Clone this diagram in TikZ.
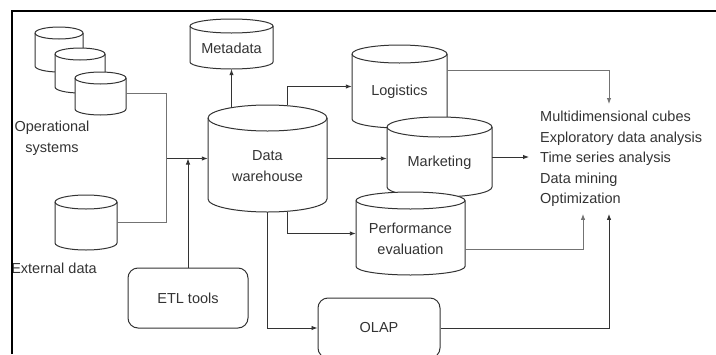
\documentclass[tikz,border=0pt]{standalone}
\usepackage{fontspec}
\setmainfont{Liberation Sans}
\usetikzlibrary{arrows.meta}

\newcommand{\dwfont}{\fontsize{14.5}{20.5}\selectfont}

\tikzset{
  dbline/.style={draw=black!80, fill=white, line width=1pt},
  dbbox/.style={rectangle, inner sep=0pt},
  dbtext/.style={align=center, inner sep=1pt, font=\dwfont, text=black!80},
  tool/.style={rectangle, rounded corners=10pt, draw=black!80, line width=1pt,
    minimum width=120, minimum height=60, font=\dwfont, text=black!80},
  lbl/.style={align=center, font=\dwfont, text=black!80},
  apps/.style={align=left, inner xsep=11pt, inner ysep=7pt, font=\dwfont, text=black!80},
  arr/.style={draw=black!80, line width=0.9pt, -{Latex[length=6pt,width=4.5pt]}},
  gline/.style={draw=black!55, line width=0.9pt},
  garr/.style={gline, -{Latex[length=6pt,width=4.5pt]}}
}

% name, centre, half width, half height, ellipse radius, text
\newcommand{\dbcyl}[6]{%
  \begin{scope}[shift={(#2)}, y=1pt]
    \filldraw[dbline] (-#3,#4-#5) -- (-#3,-#4+#5)
      arc[start angle=180, end angle=360, x radius=#3, y radius=#5]
      -- (#3,#4-#5) arc[start angle=0, end angle=180, x radius=#3, y radius=#5] -- cycle;
    \draw[dbline, fill=none] (-#3,#4-#5) arc[start angle=180, end angle=360, x radius=#3, y radius=#5];
  \end{scope}
  \node[dbbox, minimum width=2*#3, minimum height=2*#4] (#1) at (#2) {};
  \node[dbtext] (#1-txt) at ([yshift=-0.6*#5]#1.center) {#6};
}

\begin{document}
\begin{tikzpicture}[x=1pt,y=-1pt]
\useasboundingbox (0,0) rectangle (716,354);
\clip (0,0) rectangle (716,354);

% sources
\dbcyl{ops1}{59,49.5}{24}{22.5}{6}{}
\dbcyl{ops2}{80,70.5}{25}{22.5}{6}{}
\dbcyl{ops3}{100.5,93.5}{25.5}{21.5}{6}{}
\node[lbl] (opslbl) at (52,138) {Operational\\systems};
\dbcyl{ext}{86,222.5}{31}{27.5}{7}{}
\node[lbl] (extlbl) at (54,268) {External data};
\node[tool] (etl) at (188,298) {ETL tools};

% warehouse
\dbcyl{dw}{267.5,158.5}{59.5}{53.5}{13}{Data\\warehouse}
\dbcyl{meta}{231.5,44}{41.5}{25}{7}{Metadata}

% marts
\dbcyl{log}{399.5,86.5}{47.5}{41.5}{9}{Logistics}
\dbcyl{mkt}{439.5,157}{52.5}{40}{10}{Marketing}
\dbcyl{pe}{410.5,233.5}{54.5}{41.5}{8.5}{Performance\\evaluation}
\node[tool, minimum width=122] (olap) at (379,328) {OLAP};

\node[apps, anchor=north west] (apps) at (529,104) {Multidimensional cubes\\Exploratory data analysis\\Time series analysis\\Data mining\\Optimization};

% connectors
\path (dw.west) ++(-41,0) coordinate (mrg);
\draw[gline] (ops3.east) -| (mrg);
\draw[gline] (ext.east) -| (mrg);
\draw[arr] (mrg) -- (dw.west);
\draw[arr] (etl.north) -- (etl.north |- mrg);
\draw[arr] ([yshift=-2pt]meta.south |- dw.north) -- (meta.south);
\draw[arr] ([xshift=20pt]dw.north) |- (log.west);
\draw[arr] (dw.east) -- (dw.east -| mkt.west);
\draw[arr] ([xshift=20pt]dw.south) |- (pe.west);
\draw[arr] (dw.south) |- (olap.west);
\draw[arr] (mkt.east) -- (mkt.east -| apps.west);
\draw[garr] ([yshift=16pt]log.east) -| ([xshift=80pt]apps.north west);
\draw[garr] ([yshift=-16pt]pe.east) -| ([xshift=54pt]apps.south west);
\draw[arr] (olap.east) -| ([xshift=80pt]apps.south west);

\draw[line width=1.3pt] (12,354) -- (12,11) -- (716,11);
\end{tikzpicture}
\end{document}
